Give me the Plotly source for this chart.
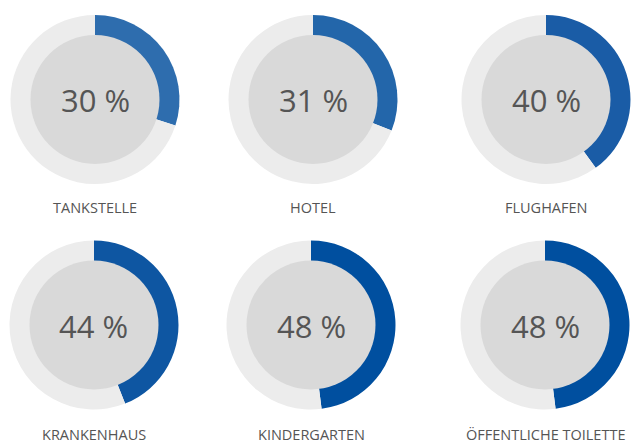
import plotly.graph_objects as go

# Data
categories = ["TANKSTELLE", "HOTEL", "FLUGHAFEN", "KRANKENHAUS", "KINDERGARTEN", "ÖFFENTLICHE TOILETTE"]
percent = [30, 31, 40, 44, 48, 48]
percent_labels = ["30 %", "31 %", "40 %", "44 %", "48 %", "48 %"]
blues = ["#2e6dae", "#2366aa", "#1a5ca6", "#0e56a2", "#004f9f", "#004f9f"]

# Layout (pixels)
W, H = 633, 444
centers_x = [95, 313, 546, 94, 311, 545]
centers_y = [99.5, 99.5, 99.5, 325, 325, 325]
label_y = [207, 207, 207, 434, 434, 434]
R_OUT = 84.5
R_IN = 64.5
RING_GRAY = "#ececec"
INNER_GRAY = "#d9d9d9"
TEXT_COLOR = "#555555"

fig = go.Figure()
annotations = []

def dom(cx, cy, r):
    return dict(x=[(cx - r) / W, (cx + r) / W],
                y=[(H - cy - r) / H, (H - cy + r) / H])

for i, cat in enumerate(categories):
    cx, cy = centers_x[i], centers_y[i]
    p = percent[i]
    fig.add_trace(go.Pie(
        values=[p, 100 - p], labels=["ja", "nein"],
        marker=dict(colors=[blues[i], RING_GRAY], line=dict(width=0)),
        domain=dom(cx, cy, R_OUT), sort=False, direction="clockwise",
        rotation=0, textinfo="none", hoverinfo="skip", showlegend=False,
    ))
    fig.add_trace(go.Pie(
        values=[1], labels=["inner"],
        marker=dict(colors=[INNER_GRAY], line=dict(width=0)),
        domain=dom(cx, cy, R_IN), sort=False, textinfo="none",
        hoverinfo="skip", showlegend=False,
    ))
    annotations.append(dict(
        text=percent_labels[i], x=cx / W, y=1 - (cy + 1) / H,
        xref="paper", yref="paper", xanchor="center", yanchor="middle",
        showarrow=False, font=dict(family="Open Sans", size=31, color=TEXT_COLOR),
    ))
    annotations.append(dict(
        text=cat, x=cx / W, y=1 - label_y[i] / H,
        xref="paper", yref="paper", xanchor="center", yanchor="middle",
        showarrow=False, borderpad=0,
        font=dict(family="Open Sans", size=14.5, color=TEXT_COLOR),
    ))

fig.update_layout(
    width=W, height=H, margin=dict(l=0, r=0, t=0, b=0),
    paper_bgcolor="white", plot_bgcolor="white",
    annotations=annotations, showlegend=False,
)

fig.write_html(
    "out.html",
    config={"displayModeBar": False},
    post_script="document.body.style.margin='0';document.body.style.padding='0';",
)
